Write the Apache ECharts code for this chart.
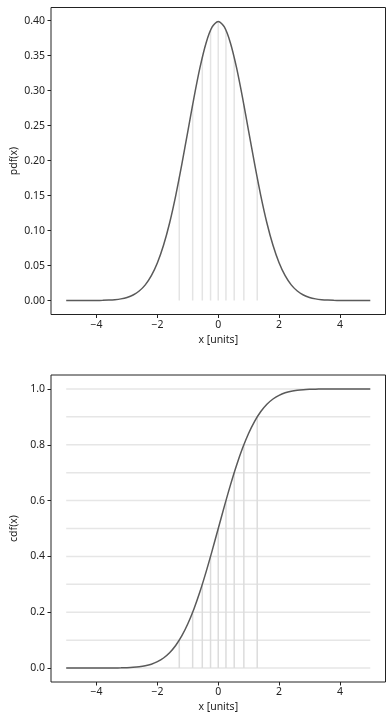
<!DOCTYPE html>
<html>
<head>
<meta charset="utf-8">
<script src="https://cdn.jsdelivr.net/npm/echarts@6/dist/echarts.min.js"></script>
<style>
html,body{margin:0;padding:0;background:#fff;}
#chart{width:392px;height:720px;}
</style>
</head>
<body>
<div id="chart"></div>
<script>
// x samples
var xs = [-5.0,-4.8,-4.6,-4.4,-4.2,-4.0,-3.8,-3.6,-3.4,-3.2,-3.0,-2.8,-2.6,-2.4,-2.2,-2.0,-1.8,-1.6,-1.4,-1.2,-1.0,-0.8,-0.6,-0.4,-0.2,
  0.0,0.2,0.4,0.6,0.8,1.0,1.2,1.4,1.6,1.8,2.0,2.2,2.4,2.6,2.8,3.0,3.2,3.4,3.6,3.8,4.0,4.2,4.4,4.6,4.8,5.0];
var pdfVals = [0.00000,0.00000,0.00001,0.00002,0.00006,0.00013,0.00029,0.00061,0.00123,0.00238,0.00443,0.00792,0.01358,0.02239,0.03547,0.05399,0.07895,0.11092,0.14973,0.19419,0.24197,0.28969,0.33322,0.36827,0.39104,
  0.39894,0.39104,0.36827,0.33322,0.28969,0.24197,0.19419,0.14973,0.11092,0.07895,0.05399,0.03547,0.02239,0.01358,0.00792,0.00443,0.00238,0.00123,0.00061,0.00029,0.00013,0.00006,0.00002,0.00001,0.00000,0.00000];
var cdfVals = [0.00000,0.00000,0.00000,0.00001,0.00001,0.00003,0.00007,0.00016,0.00034,0.00069,0.00135,0.00256,0.00466,0.00820,0.01390,0.02275,0.03593,0.05480,0.08076,0.11507,0.15866,0.21186,0.27425,0.34458,0.42074,
  0.50000,0.57926,0.65542,0.72575,0.78814,0.84134,0.88493,0.91924,0.94520,0.96407,0.97725,0.98610,0.99180,0.99534,0.99744,0.99865,0.99931,0.99966,0.99984,0.99993,0.99997,0.99999,0.99999,1.00000,1.00000,1.00000];
// decile positions and heights of the vertical guide lines
var quantX = [-1.2816,-0.8416,-0.5244,-0.2533,0.0,0.2533,0.5244,0.8416,1.2816];
var quantPdf = [0.17550,0.28000,0.34770,0.38634,0.39894,0.38634,0.34770,0.28000,0.17550];
var quantCdf = [0.1,0.2,0.3,0.4,0.5,0.6,0.7,0.8,0.9];
// horizontal guide levels in the cdf panel
var cdfLevels = [0.0,0.1,0.2,0.3,0.4,0.5,0.6,0.7,0.8,0.9,1.0];
// tick labels
var xTicks = [-4,-2,0,2,4];
var pdfTicks = [0,0.05,0.10,0.15,0.20,0.25,0.30,0.35,0.40];
var cdfTicks = [0,0.2,0.4,0.6,0.8,1.0];

var FONT = 'Noto Sans';
var TXT = '#222';
function fmtX(v){ return v < 0 ? '\u2212' + Math.abs(v) : String(v); }

function xAxis(idx){
  return {
    type:'value', gridIndex:idx, min:-5.5, max:5.5, position:'bottom',
    name:'x [units]', nameLocation:'middle', nameGap:20, nameMoveOverlap:false,
    nameTextStyle:{fontFamily:FONT,fontSize:10.5,color:TXT},
    axisLine:{show:false, onZero:false}, splitLine:{show:false},
    axisTick:{show:true, length:3.5, customValues:xTicks, lineStyle:{color:TXT,width:1}},
    axisLabel:{customValues:xTicks, formatter:fmtX, margin:5, fontFamily:FONT, fontSize:10.5, color:TXT}
  };
}
function yAxis(idx, mn, mx, ticks, dec, name){
  return {
    type:'value', gridIndex:idx, min:mn, max:mx, position:'left',
    name:name, nameLocation:'middle', nameGap:31, nameMoveOverlap:false,
    nameTextStyle:{fontFamily:FONT,fontSize:10.5,color:TXT},
    axisLine:{show:false, onZero:false}, splitLine:{show:false},
    axisTick:{show:true, length:3.5, customValues:ticks, lineStyle:{color:TXT,width:1}},
    axisLabel:{customValues:ticks, formatter:function(v){return v.toFixed(dec);}, margin:6, fontFamily:FONT, fontSize:10.5, color:TXT}
  };
}

var series = [];
function seg(idx, pts, color, w){
  series.push({type:'line', xAxisIndex:idx, yAxisIndex:idx, data:pts, symbol:'none', silent:true,
    lineStyle:{color:color,width:w}, z:1, animation:false});
}
quantX.forEach(function(q,i){ seg(0, [[q,0],[q,quantPdf[i]]], '#e4e4e4', 1.5); });
cdfLevels.forEach(function(l){ seg(1, [[xs[0],l],[xs[xs.length-1],l]], '#e6e6e6', 1.5); });
quantX.forEach(function(q,i){ seg(1, [[q,0],[q,quantCdf[i]]], '#dcdcdc', 1.5); });

series.push({type:'line', xAxisIndex:0, yAxisIndex:0, data:xs.map(function(x,i){return [x,pdfVals[i]];}),
  symbol:'none', smooth:0.3, lineStyle:{color:'#5a5a5a',width:1.5}, z:5, animation:false});
series.push({type:'line', xAxisIndex:1, yAxisIndex:1, data:xs.map(function(x,i){return [x,cdfVals[i]];}),
  symbol:'none', smooth:0.3, lineStyle:{color:'#5a5a5a',width:1.5}, z:5, animation:false});

var chart = echarts.init(document.getElementById('chart'), null, {renderer:'canvas'});
chart.setOption({
  backgroundColor:'#fff',
  animation:false,
  grid:[
    {left:51, width:334.5, top:7.5, height:307, show:true, borderColor:TXT, borderWidth:1, backgroundColor:'transparent', outerBoundsMode:'none', containLabel:false},
    {left:51, width:334.5, top:375, height:307, show:true, borderColor:TXT, borderWidth:1, backgroundColor:'transparent', outerBoundsMode:'none', containLabel:false}
  ],
  xAxis:[xAxis(0), xAxis(1)],
  yAxis:[
    yAxis(0, -0.01995, 0.4189, pdfTicks, 2, 'pdf(x)'),
    yAxis(1, -0.05, 1.05, cdfTicks, 1, 'cdf(x)')
  ],
  series:series
});
</script>
</body>
</html>
